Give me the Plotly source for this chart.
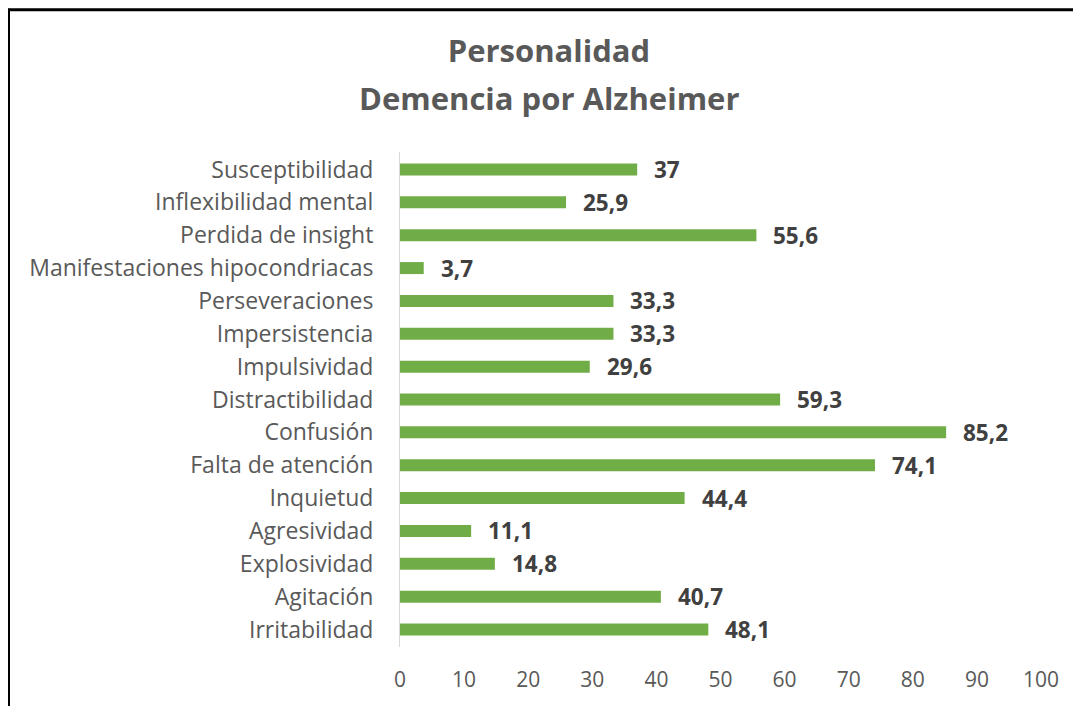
import plotly.graph_objects as go

categories = ["Susceptibilidad", "Inflexibilidad mental", "Perdida de insight",
              "Manifestaciones hipocondriacas", "Perseveraciones", "Impersistencia",
              "Impulsividad", "Distractibilidad", "Confusión", "Falta de atención",
              "Inquietud", "Agresividad", "Explosividad", "Agitación", "Irritabilidad"]
values = [37, 25.9, 55.6, 3.7, 33.3, 33.3, 29.6, 59.3, 85.2, 74.1, 44.4, 11.1, 14.8, 40.7, 48.1]
tick_vals = [0, 10, 20, 30, 40, 50, 60, 70, 80, 90, 100]
title_lines = ["Personalidad", "Demencia por Alzheimer"]

FONT = "Open Sans"
OFF = 8  # page body margin
W, H = 1081 - OFF, 706 - OFF
L, R, T, B = 400 - OFF, 40, 151.5 - OFF, 58.5

fig = go.Figure(go.Bar(
    x=values, y=categories, orientation="h",
    marker=dict(color="#70AD47", line=dict(width=0)),
    width=0.365, hoverinfo="x+y",
))

for v, c in zip(values, categories):
    fig.add_annotation(x=v, y=c, xref="x", yref="y",
                       text="<b>" + f"{v:g}".replace(".", ",") + "</b>",
                       showarrow=False, xanchor="left", yanchor="middle",
                       xshift=15, yshift=0,
                       font=dict(family=FONT, size=22.5, color="#404040"))

pw = W - L - R
ph = H - T - B
def px(xp):
    return (xp - L) / pw
def py(yp):
    return (H - B - yp) / ph

fig.add_shape(type="line", xref="paper", yref="paper",
              x0=px(0), x1=px(W + 5), y0=py(1), y1=py(1),
              line=dict(color="black", width=3))
fig.add_shape(type="line", xref="paper", yref="paper",
              x0=px(0.5), x1=px(0.5), y0=py(0), y1=py(H + 5),
              line=dict(color="black", width=3))

title_font = dict(family=FONT, size=31, color="#595959")
fig.add_annotation(xref="paper", yref="paper", x=px(541), y=py(89),
                   xanchor="center", yanchor="middle", showarrow=False,
                   text="<b>" + title_lines[1] + "</b>", font=title_font)

fig.update_layout(
    width=W, height=H,
    margin=dict(l=L, r=R, t=T, b=B, autoexpand=False),
    paper_bgcolor="white", plot_bgcolor="white",
    showlegend=False,
    title=dict(text="<b>" + title_lines[0] + "</b>",
               x=541 / W, xanchor="center", y=1 - 43.5 / H, yanchor="middle",
               font=title_font),
    xaxis=dict(range=[0, 100], tickvals=tick_vals, showgrid=False,
               zeroline=False, showline=False, ticks="",
               ticklabelstandoff=18,
               tickfont=dict(family=FONT, size=21, color="#595959")),
    yaxis=dict(autorange="reversed", showgrid=False, zeroline=False,
               showline=True, linecolor="#D9D9D9", linewidth=1,
               ticks="", ticklabelstandoff=21,
               tickfont=dict(family=FONT, size=23, color="#595959")),
)

fig.write_html("out.html")
